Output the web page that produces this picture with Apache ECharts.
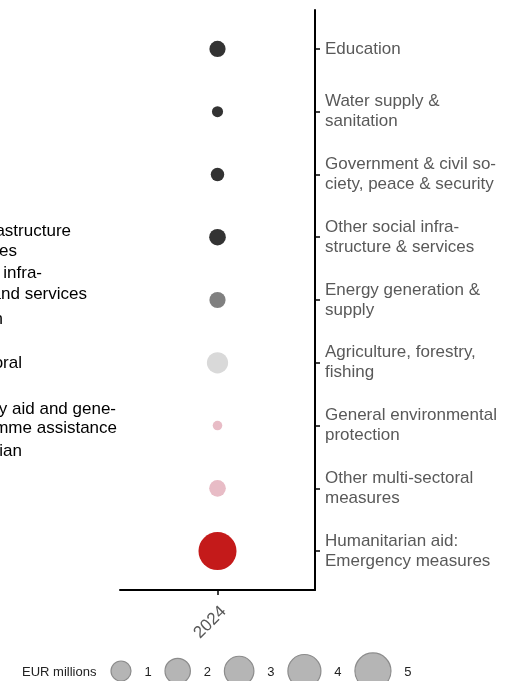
<!DOCTYPE html>
<html>
<head>
<meta charset="utf-8">
<script src="https://cdn.jsdelivr.net/npm/echarts@6/dist/echarts.min.js"></script>
<style>
  html, body { margin: 0; padding: 0; background: #fff; }
  #chart { width: 508px; height: 681px; }
</style>
</head>
<body>
<div id="chart"></div>
<script>
// sectors (top to bottom), as wrapped in the picture
const categories = [
    'Education',
    'Water supply &\nsanitation',
    'Government & civil so-\nciety, peace & security',
    'Other social infra-\nstructure & services',
    'Energy generation &\nsupply',
    'Agriculture, forestry,\nfishing',
    'General environmental\nprotection',
    'Other multi-sectoral\nmeasures',
    'Humanitarian aid:\nEmergency measures'
]
const years = ['2024']
// EUR millions, 2024
const values2024 = [0.5, 0.1, 0.25, 0.55, 0.5, 1.2, 0.04, 0.55, 5.7]
// size key
const sizeKeyValues = [1, 2, 3, 4, 5]
// sector group key (cut off at the left edge in the original)
const groupLines = [
    'Social infrastructure', '& services',
    'Economic infra-', 'structure and services',
    'Production',
    'Multi-sectoral',
    'Commodity aid and gene-', 'ral programme assistance',
    'Humanitarian'
]

// styling
const sectorColors = ['#333333', '#333333', '#333333', '#333333', '#808080', '#d9d9d9', '#e8bcc6', '#e8bcc6', '#c41a1a']
const FONT = '"Liberation Sans", Arial, sans-serif'
const sizeOf = v => 7 + 13 * Math.sqrt(v) // bubble diameter, px

const chart = echarts.init(document.getElementById('chart'))

// group key text: right edges / centres
const groupPos = [[71, 231], [17, 251], [42, 273], [87, 294], [3, 319], [22, 363], [116, 409], [117, 428], [22, 451]]
const graphics = groupLines.map((t, i) => ({
    type: 'text',
    x: groupPos[i][0],
    y: groupPos[i][1],
    style: { text: t, fill: '#000', font: '17px ' + FONT, align: 'right', verticalAlign: 'middle' }
}))

// size key along the bottom
graphics.push({
    type: 'text', x: 22, y: 672,
    style: { text: 'EUR millions', fill: '#222', font: '13px ' + FONT, verticalAlign: 'middle' }
})
let cx = 111
sizeKeyValues.forEach(v => {
    const r = sizeOf(v) / 2
    graphics.push({
        type: 'circle', shape: { cx: cx + r, cy: 671, r: r },
        style: { fill: '#b5b5b5', stroke: '#8c8c8c', lineWidth: 1.2 }
    })
    const lx = cx + 2 * r + 17
    graphics.push({
        type: 'text', x: lx, y: 672,
        style: { text: String(v), fill: '#222', font: '13px ' + FONT, align: 'center', verticalAlign: 'middle' }
    })
    cx = lx + 17
})

const options = {
    animation: false,
    grid: { left: 120, right: 193, top: 10, bottom: 91 },
    xAxis: {
        type: 'category',
        data: years,
        axisLine: { onZero: false, lineStyle: { color: '#000', width: 2 } },
        axisTick: { show: true, interval: 0, alignWithLabel: true, length: 5, lineStyle: { color: '#000', width: 1.5 } },
        axisLabel: { rotate: 45, margin: 13, verticalAlign: 'top', color: '#595959', fontSize: 17, fontFamily: FONT },
        splitLine: { show: false }
    },
    yAxis: {
        type: 'value',
        position: 'right',
        inverse: true,
        min: -0.62,
        max: 8.62,
        axisLine: { show: true, onZero: false, lineStyle: { color: '#000', width: 2 } },
        axisTick: {
            show: true, length: 5,
            customValues: categories.map((c, i) => i),
            lineStyle: { color: '#000', width: 1.5 }
        },
        axisLabel: {
            customValues: categories.map((c, i) => i),
            formatter: v => categories[v],
            margin: 10,
            padding: [6, 0, 0, 0],
            color: '#595959',
            fontSize: 17,
            lineHeight: 20,
            fontFamily: FONT
        },
        splitLine: { show: false }
    },
    series: [{
        type: 'scatter',
        symbol: 'circle',
        symbolSize: val => sizeOf(val[2]),
        data: values2024.map((v, i) => ({
            value: [years[0], i, v],
            itemStyle: { color: sectorColors[i], opacity: 1 }
        }))
    }],
    graphic: graphics
}
chart.setOption(options)
</script>
</body>
</html>
